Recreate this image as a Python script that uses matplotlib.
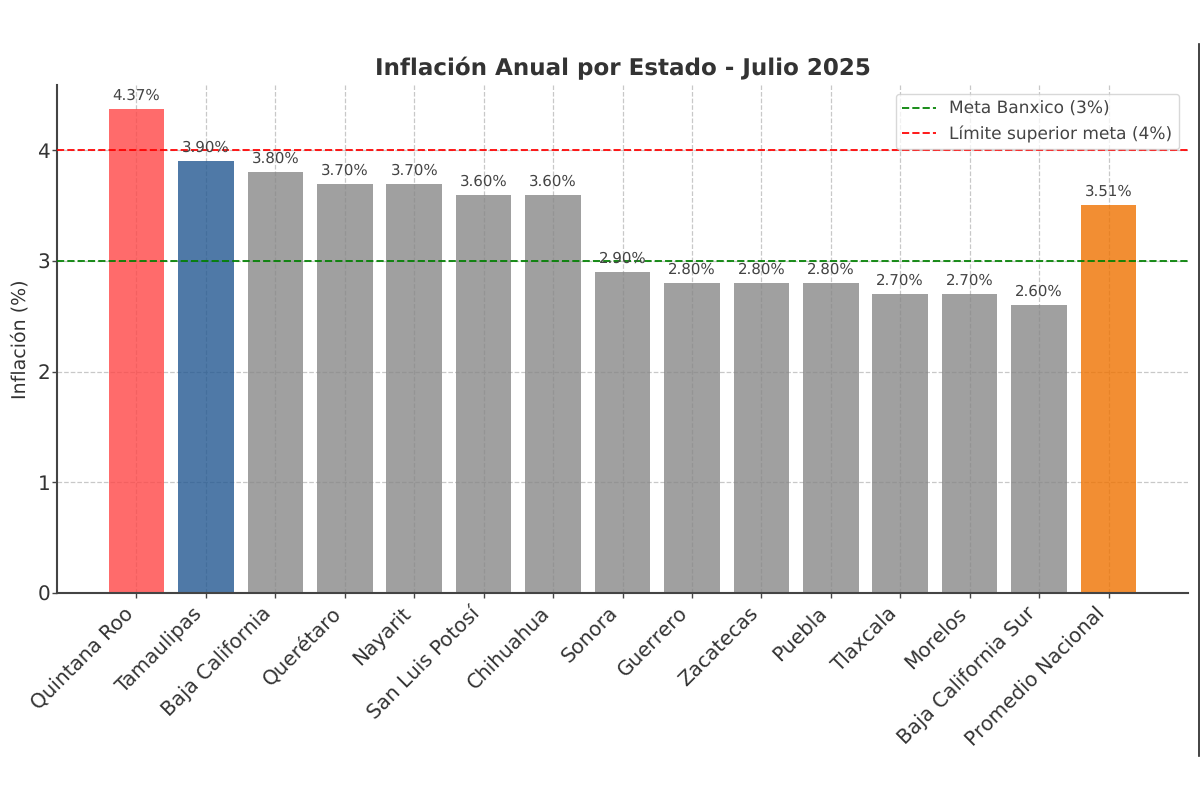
import matplotlib
matplotlib.use('Agg')
import matplotlib.pyplot as plt
from matplotlib.lines import Line2D

plt.rcParams['text.hinting'] = 'no_hinting'
plt.rcParams['text.hinting_factor'] = 1

estados = ['Quintana Roo', 'Tamaulipas', 'Baja California', 'Querétaro', 'Nayarit',
           'San Luis Potosí', 'Chihuahua', 'Sonora', 'Guerrero', 'Zacatecas', 'Puebla',
           'Tlaxcala', 'Morelos', 'Baja California Sur', 'Promedio Nacional']
inflacion = [4.37, 3.90, 3.80, 3.70, 3.70, 3.60, 3.60, 2.90, 2.80, 2.80, 2.80, 2.70, 2.70, 2.60, 3.51]
# bars are a bit see-through, so the base colours are darker than they look
colores = ['#ff4646', '#235891'] + ['#888888'] * 12 + ['#ef7200']
yticks = [0, 1, 2, 3, 4]

fig = plt.figure(figsize=(12, 8), dpi=100)
ax = fig.add_axes([57 / 1200, 1 - 593 / 800, (1188 - 57) / 1200, (593 - 85) / 800])

ax.grid(True, color='#bbbbbb', linestyle='--', linewidth=0.9, alpha=0.8, zorder=1)
ax.set_axisbelow(True)
ax.bar(range(len(estados)), inflacion, width=0.8, color=colores, alpha=0.8, edgecolor='none', zorder=2)

ax.axhline(3, color='green', linestyle='--', linewidth=1.4, alpha=0.9, label='Meta Banxico (3%)', zorder=4)
ax.axhline(4, color='red', linestyle='--', linewidth=1.4, alpha=0.9, label='Límite superior meta (4%)', zorder=4)

for i, v in enumerate(inflacion):
    ax.text(i, v + 0.055, f'{v:.2f}%', ha='center', va='bottom', fontsize=10.5, color='#444444', zorder=5)

ax.set_xlim(-1.145, 15.145)
ax.set_ylim(0, 4.59)
ax.set_yticks(yticks)
ax.set_xticks(range(len(estados)))
ax.set_xticklabels(estados, rotation=45, ha='right', fontsize=14.2, color='#333333')
ax.tick_params(axis='y', labelsize=14.2, labelcolor='#333333', length=3.5, width=1, color='#444444', pad=1.5)
ax.tick_params(axis='x', length=3.5, width=1, color='#444444', pad=4)
ax.set_ylabel('Inflación (%)', fontsize=14, color='#333333', labelpad=6)
ax.set_title('Inflación Anual por Estado - Julio 2025', fontsize=16.85, fontweight='bold', color='#333333', pad=7)

for lado in ['top', 'right']:
    ax.spines[lado].set_visible(False)
for lado in ['left', 'bottom']:
    ax.spines[lado].set_color('#444444')
    ax.spines[lado].set_linewidth(1.5)

ax.legend(loc='upper right', fontsize=12, labelcolor='#444444', framealpha=0.75,
          bbox_to_anchor=(0.992, 0.982), borderaxespad=0)

# dark edge on the right of the screenshot
fig.add_artist(Line2D([1199 / 1200, 1199 / 1200], [1 - 44 / 800, 1 - 756 / 800], color='#222222', linewidth=1.2))

fig.savefig('out.png', dpi=100)
